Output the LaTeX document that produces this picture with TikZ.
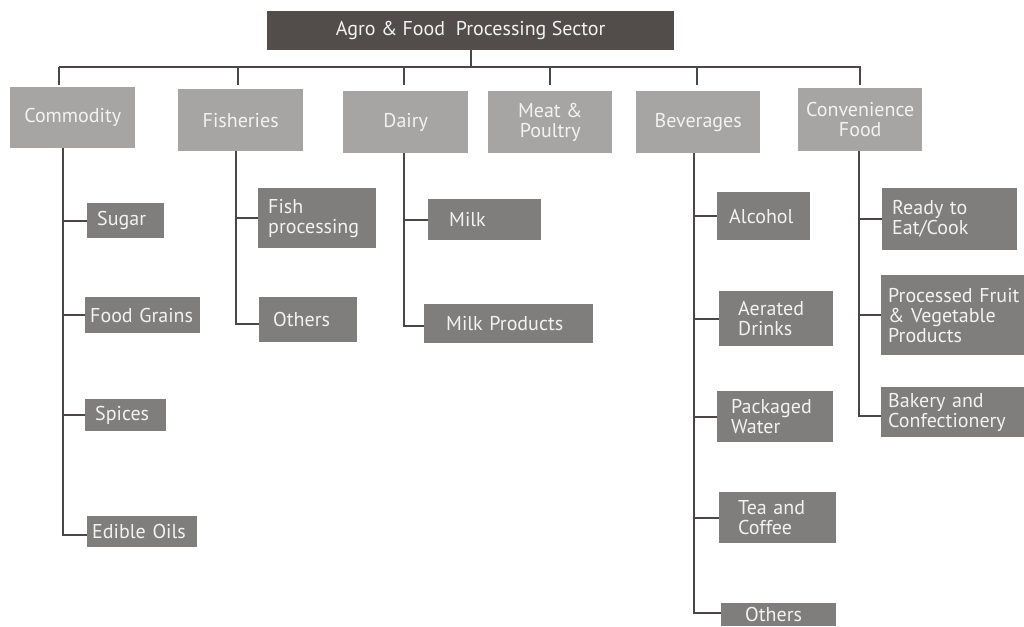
\documentclass[tikz,border=0pt]{standalone}
\usepackage{fontspec}
\setmainfont{PT Sans}
\definecolor{headfill}{HTML}{524D4A}
\definecolor{catfill}{HTML}{A6A5A4}
\definecolor{itemfill}{HTML}{7F7E7D}
\definecolor{boxtext}{HTML}{F2F2F2}
\definecolor{linkgray}{HTML}{4A4746}
\begin{document}
\begin{tikzpicture}[x=1pt,y=-1pt,
  link/.style={draw=linkgray, line width=2.4pt},
  boxfont/.style={font=\fontsize{20}{20}\selectfont},
  headbox/.style={fill=headfill, text=boxtext, anchor=north west, inner sep=0pt, boxfont},
  catbox/.style={fill=catfill, text=boxtext, anchor=north west, inner sep=0pt, align=center, boxfont},
  itembox/.style={fill=itemfill, text=boxtext, anchor=north west, inner xsep=10pt, inner ysep=0pt, align=left, boxfont}]
\useasboundingbox (0,0) rectangle (1024,626);
\clip (0,0) rectangle (1024,626);

% root
\node[headbox, minimum width=407pt, minimum height=39pt] (root) at (267,11) {Agro \& Food\ \ Processing Sector};

% sectors
\node[catbox, minimum width=125pt, minimum height=61pt] (commodity) at (10,87) {Commodity};
\node[catbox, minimum width=125pt, minimum height=62pt] (fisheries) at (178,89) {Fisheries};
\node[catbox, minimum width=125pt, minimum height=62pt] (dairy) at (343,91) {Dairy};
\node[catbox, minimum width=124pt, minimum height=62pt] (meat) at (488,91) {Meat \&\\Poultry};
\node[catbox, minimum width=124pt, minimum height=62pt] (beverages) at (636,91) {Beverages};
\node[catbox, minimum width=124pt, minimum height=63pt] (convenience) at (798,88) {Convenience\\Food};

% bus from the root to the sectors
\coordinate (busL) at (59,67);
\coordinate (busR) at (861,67);
\draw[link] (root.south) -- (root.south |- busL);
\draw[link] (busL) -- (busR);
\draw[link] (busL) -- ([yshift=2]busL |- commodity.north);
\draw[link] ([xshift=-3]fisheries.north |- busL) -- ([xshift=-3,yshift=4]fisheries.north);
\draw[link] ([xshift=-2]dairy.north |- busL) -- ([xshift=-2,yshift=6]dairy.north);
\draw[link] (meat.north |- busL) -- ([yshift=6]meat.north);
\draw[link] ([xshift=-1]beverages.north |- busL) -- ([yshift=6,xshift=-1]beverages.north);
\draw[link] (convenience.north |- busL) -- ([yshift=3]convenience.north);

% commodity items
\node[itembox, text width=57pt, minimum height=35pt] (sugar) at (87,203) {Sugar};
\node[itembox, inner xsep=5pt, text width=105pt, minimum height=36pt] (grains) at (85,297) {Food Grains};
\node[itembox, text width=61pt, minimum height=32pt] (spices) at (85,399) {Spices};
\node[itembox, inner xsep=5pt, text width=100pt, minimum height=31pt] (oils) at (87,516) {Edible Oils};
\coordinate (cTrunk) at ([xshift=-10]commodity.south);
\draw[link] (cTrunk) |- (sugar.west);
\draw[link] (cTrunk) |- (grains.west);
\draw[link] (cTrunk) |- (spices.west);
\draw[link] (cTrunk) |- ([yshift=-3]oils.west);

% fisheries items
\node[itembox, text width=98pt, minimum height=60pt] (fish) at (258,188) {Fish\\processing};
\node[itembox, inner xsep=14pt, text width=70pt, minimum height=45pt] (fothers) at (259,297) {Others};
\coordinate (fTrunk) at ([xshift=-5]fisheries.south);
\draw[link] (fTrunk) |- (fish.west);
\draw[link] (fTrunk) |- ([yshift=-4]fothers.west);

% dairy items
\node[itembox, inner xsep=21pt, text width=71pt, minimum height=41pt] (milk) at (428,199) {Milk};
\node[itembox, inner xsep=22pt, text width=125pt, minimum height=39pt] (milkprod) at (424,304) {Milk Products};
\coordinate (dTrunk) at ([xshift=-2]dairy.south);
\draw[link] (dTrunk) |- (milk.west);
\draw[link] (dTrunk) |- ([yshift=-2]milkprod.west);

% beverage items
\node[itembox, inner xsep=12pt, text width=69pt, minimum height=48pt] (alcohol) at (717,192) {Alcohol};
\node[itembox, inner xsep=19pt, text width=76pt, minimum height=55pt] (aerated) at (719,291) {Aerated\\Drinks};
\node[itembox, inner xsep=14pt, text width=88pt, minimum height=51pt] (water) at (717,391) {Packaged\\Water};
\node[itembox, inner xsep=19pt, text width=79pt, minimum height=51pt] (tea) at (719,492) {Tea and\\Coffee};
\node[itembox, inner xsep=24pt, text width=67pt, minimum height=23pt] (bothers) at (721,603) {Others};
\coordinate (bTrunk) at ([xshift=-4]beverages.south);
\draw[link] (bTrunk) |- (alcohol.west);
\draw[link] (bTrunk) |- (aerated.west);
\draw[link] (bTrunk) |- (water.west);
\draw[link] (bTrunk) |- (tea.west);
\draw[link] (bTrunk) |- ([yshift=2]bothers.west);

% convenience food items
\node[itembox, text width=115pt, minimum height=62pt] (ready) at (882,188) {Ready to\\Eat/Cook};
\node[itembox, inner xsep=7pt, text width=136pt, minimum height=80pt] (fruit) at (881,275) {Processed Fruit\\\& Vegetable\\Products};
\node[itembox, inner xsep=7pt, text width=136pt, minimum height=50pt] (bakery) at (881,387) {Bakery and\\Confectionery};
\coordinate (vTrunk) at ([xshift=-1]convenience.south);
\draw[link] (vTrunk) |- (ready.west);
\draw[link] (vTrunk) |- (fruit.west);
\draw[link] (vTrunk) |- ([yshift=-4]bakery.west);
\end{tikzpicture}
\end{document}
